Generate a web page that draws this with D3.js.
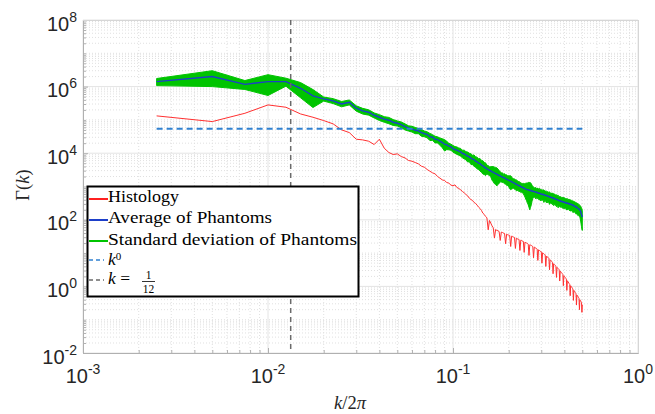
<!DOCTYPE html>
<html><head><meta charset="utf-8">
<script src="https://cdn.jsdelivr.net/npm/d3@7"></script>
<style>
html,body{margin:0;padding:0;background:#fff;}
svg{display:block;}
</style></head>
<body>
<svg id="chart" width="655" height="414"></svg>
<script>
// Spectrum samples on the grid k/2π = n/400, n = 1..200
const waveIndex = d3.range(1, 201);

// Histology spectrum Γ(k)
const histology = [
  1.32e5, 8.91e4, 1.58e5, 2.82e5, 2.40e5, 1.51e5, 1.20e5, 9.55e4, 7.59e4, 5.01e4,
  4.17e4, 2.63e4, 2.51e4, 2.29e4, 1.82e4, 2.63e4, 1.41e4, 1.05e4, 9.12e3, 9.55e3,
  7.94e3, 7.24e3, 6.03e3, 5.75e3, 5.25e3, 4.79e3, 4.07e3, 3.80e3, 3.24e3, 2.88e3,
  2.57e3, 2.40e3, 2.00e3, 1.78e3, 1.58e3, 1.51e3, 1.32e3, 1.26e3, 1.10e3, 1.05e3,
  1.12e3, 9.33e2, 8.71e2, 7.94e2, 7.08e2, 6.46e2, 5.75e2, 5.25e2, 4.47e2, 4.07e2,
  3.80e2, 3.31e2, 3.09e2, 2.75e2, 2.40e2, 2.19e2, 1.91e2, 1.58e2, 1.45e2, 1.26e2,
  1.15e2, 5.01e1, 9.55e1, 7.94e1, 6.61e1, 5.75e1, 2.82e1, 5.13e1, 4.79e1, 4.68e1,
  4.47e1, 2.40e1, 4.27e1, 4.17e1, 3.98e1, 3.89e1, 1.91e1, 3.72e1, 3.55e1, 3.47e1,
  3.39e1, 1.58e1, 3.24e1, 3.16e1, 3.02e1, 2.95e1, 1.38e1, 2.82e1, 2.69e1, 2.63e1,
  2.57e1, 1.20e1, 2.45e1, 2.40e1, 2.29e1, 2.24e1, 1.05e1, 2.14e1, 2.04e1, 2.00e1,
  1.95e1, 1.86e1, 8.51, 1.78e1, 1.74e1, 1.70e1, 1.62e1, 1.58e1, 7.24, 1.51e1,
  1.48e1, 1.41e1, 1.38e1, 1.32e1, 6.03, 1.26e1, 1.20e1, 1.17e1, 1.12e1, 1.10e1,
  5.01, 1.02e1, 9.77, 9.55, 9.12, 8.71, 3.98, 8.13, 7.76, 7.59,
  7.24, 6.92, 3.16, 6.31, 6.03, 5.75, 5.50, 5.25, 2.40, 4.79,
  4.57, 4.37, 4.27, 4.07, 1.86, 3.72, 3.55, 3.47, 3.31, 3.16,
  1.45, 2.88, 2.75, 2.63, 2.51, 2.40, 2.29, 1.05, 2.09, 2.00,
  1.91, 1.82, 1.74, 1.66, 0.759, 1.48, 1.41, 1.35, 1.26, 1.20,
  1.15, 0.525, 1.05, 1.00, 0.955, 0.912, 0.871, 0.832, 0.380, 0.759,
  0.724, 0.692, 0.661, 0.631, 0.603, 0.275, 0.550, 0.525, 0.501, 0.479,
  0.457, 0.437, 0.200, 0.398, 0.380, 0.363, 0.347, 0.331, 0.166, 0.282
];

// Average spectrum over the phantoms
const phantomMean = [
  1.41e6, 2.00e6, 1.17e6, 1.41e6, 1.41e6, 8.91e5, 5.25e5, 4.27e5, 3.72e5, 3.02e5,
  3.39e5, 2.24e5, 1.86e5, 1.70e5, 1.38e5, 1.20e5, 1.05e5, 9.77e4, 8.51e4, 7.94e4,
  7.24e4, 6.31e4, 5.62e4, 5.37e4, 4.90e4, 4.68e4, 4.17e4, 3.89e4, 3.63e4, 3.16e4,
  3.02e4, 2.63e4, 2.57e4, 2.29e4, 2.09e4, 1.86e4, 1.78e4, 1.62e4, 1.55e4, 1.38e4,
  1.29e4, 1.23e4, 1.15e4, 1.10e4, 9.77e3, 9.55e3, 8.71e3, 8.13e3, 7.76e3, 7.08e3,
  6.61e3, 6.46e3, 5.75e3, 5.50e3, 5.01e3, 4.90e3, 4.37e3, 4.17e3, 3.80e3, 3.63e3,
  3.39e3, 3.24e3, 3.02e3, 2.95e3, 2.75e3, 2.69e3, 2.51e3, 2.45e3, 2.34e3, 2.24e3,
  2.14e3, 2.09e3, 1.95e3, 1.95e3, 1.82e3, 1.82e3, 1.70e3, 1.66e3, 1.58e3, 1.55e3,
  1.48e3, 1.45e3, 1.38e3, 1.35e3, 1.29e3, 1.26e3, 1.20e3, 1.17e3, 1.12e3, 1.10e3,
  1.05e3, 1.04e3, 9.77e2, 9.66e2, 9.33e2, 9.23e2, 8.71e2, 8.61e2, 8.32e2, 8.22e2,
  7.94e2, 8.04e2, 7.76e2, 7.59e2, 7.68e2, 7.41e2, 7.24e2, 7.33e2, 7.08e2, 6.92e2,
  7.00e2, 6.76e2, 6.61e2, 6.69e2, 6.46e2, 6.31e2, 6.39e2, 6.17e2, 6.03e2, 5.89e2,
  5.96e2, 5.75e2, 5.82e2, 5.62e2, 5.50e2, 5.57e2, 5.37e2, 5.25e2, 5.31e2, 5.13e2,
  5.01e2, 5.07e2, 4.90e2, 4.79e2, 4.85e2, 4.68e2, 4.57e2, 4.63e2, 4.47e2, 4.37e2,
  4.42e2, 4.27e2, 4.17e2, 4.22e2, 4.07e2, 3.98e2, 4.03e2, 3.89e2, 3.80e2, 3.72e2,
  3.76e2, 3.63e2, 3.67e2, 3.55e2, 3.59e2, 3.47e2, 3.51e2, 3.39e2, 3.43e2, 3.31e2,
  3.35e2, 3.24e2, 3.28e2, 3.16e2, 3.20e2, 3.16e2, 3.09e2, 3.13e2, 3.02e2, 3.06e2,
  2.95e2, 2.98e2, 2.88e2, 2.91e2, 2.82e2, 2.85e2, 2.75e2, 2.69e2, 2.72e2, 2.63e2,
  2.57e2, 2.60e2, 2.51e2, 2.45e2, 2.40e2, 2.43e2, 2.34e2, 2.29e2, 2.24e2, 2.19e2,
  2.14e2, 2.09e2, 2.04e2, 1.95e2, 1.86e2, 1.74e2, 1.58e2, 1.45e2, 1.32e2, 1.20e2
];

// Standard deviation over the phantoms
const phantomStd = [
  3.4e5, 1.0e6, 3.5e5, 8.7e5, 3.8e5, 4.3e5, 2.9e5, 6.0e4, 6.3e4, 5.5e4,
  5.7e4, 4.1e4, 3.6e4, 3.1e4, 2.4e4, 2.4e4, 2.0e4, 2.1e4, 1.7e4, 1.4e4,
  1.4e4, 1.3e4, 1.0e4, 1.05e4, 1.04e4, 8.3e3, 9.5e3, 7.6e3, 7.4e3, 7.7e3,
  5.9e3, 6.0e3, 5.3e3, 5.7e3, 6.3e3, 7.0e3, 5.0e3, 3.6e3, 3.2e3, 3.2e3,
  2.9e3, 3.1e3, 2.8e3, 2.9e3, 2.5e3, 2.8e3, 2.4e3, 2.7e3, 2.2e3, 2.5e3,
  2.1e3, 2.4e3, 2.0e3, 2.1e3, 1.8e3, 2.0e3, 1.7e3, 1.8e3, 1.5e3, 1.5e3,
  9.8e2, 1.0e3, 9.1e2, 1.0e3, 1.2e3, 1.3e3, 1.3e3, 1.3e3, 1.3e3, 1.1e3,
  9.0e2, 7.1e2, 5.9e2, 6.3e2, 5.3e2, 6.1e2, 5.1e2, 5.8e2, 5.1e2, 5.7e2,
  6.2e2, 6.5e2, 5.5e2, 4.6e2, 4.0e2, 4.4e2, 3.8e2, 4.3e2, 3.7e2, 3.2e2,
  3.6e2, 3.1e2, 3.2e2, 2.8e2, 3.0e2, 3.2e2, 3.3e2, 3.8e2, 4.2e2, 4.5e2,
  4.8e2, 5.2e2, 5.4e2, 5.6e2, 5.3e2, 4.6e2, 3.6e2, 2.9e2, 2.5e2, 2.1e2,
  2.3e2, 2.5e2, 2.0e2, 2.4e2, 1.9e2, 2.2e2, 2.5e2, 2.0e2, 2.3e2, 1.9e2,
  2.2e2, 1.8e2, 2.0e2, 2.3e2, 1.9e2, 1.7e2, 1.9e2, 2.0e2, 1.7e2, 1.9e2,
  1.6e2, 1.8e2, 2.0e2, 1.7e2, 1.4e2, 1.7e2, 1.4e2, 1.8e2, 1.5e2, 1.7e2,
  1.6e2, 1.3e2, 1.5e2, 1.3e2, 1.6e2, 1.2e2, 1.4e2, 1.6e2, 1.3e2, 1.2e2,
  1.3e2, 1.2e2, 1.3e2, 1.2e2, 1.1e2, 1.2e2, 1.3e2, 1.1e2, 1.3e2, 1.1e2,
  1.2e2, 1.0e2, 1.1e2, 1.2e2, 1.05e2, 1.2e2, 1.0e2, 1.1e2, 9.5e1, 1.05e2,
  1.1e2, 1.0e2, 1.07e2, 9.4e1, 1.0e2, 8.8e1, 9.6e1, 1.03e2, 9.0e1, 9.8e1,
  8.3e1, 9.2e1, 7.8e1, 8.5e1, 9.2e1, 8.0e1, 8.8e1, 8.3e1, 8.9e1, 8.2e1,
  8.0e1, 7.6e1, 8.0e1, 7.5e1, 8.0e1, 8.2e1, 8.3e1, 8.3e1, 7.9e1, 7.2e1
];

// Reference k^0 level and the k = 1/12 cut-off
const kZeroLevel = 5.4e4;
const cutoffK = 1 / 12;

// Axis decades
const xTickExps = [-3, -2, -1, 0];
const yTickExps = [-2, 0, 2, 4, 6, 8];

const legendLabels = ["Histology", "Average of Phantoms", "Standard deviation of Phantoms"];

(function draw() {
  const svg = d3.select("#chart");
  const xLeft = 83, xRight = 638, yTop = 20, yBottom = 353;
  const x = d3.scaleLog().domain([1e-3, 1]).range([xLeft, xRight]);
  const y = d3.scaleLog().domain([1e-2, 1e8]).range([yBottom, yTop]);

  const rows = waveIndex.map((n, i) => ({
    k: n / 400,
    hist: histology[i],
    mean: phantomMean[i],
    lo: phantomMean[i] - phantomStd[i],
    hi: phantomMean[i] + phantomStd[i]
  }));

  // ---- grid ----
  const xMinor = [], yMinor = [];
  for (let e = -3; e < 0; e++) for (let m = 2; m <= 9; m++) xMinor.push(m * Math.pow(10, e));
  for (let e = -2; e < 8; e++) for (let m = 1; m <= 9; m++) {
    if (m === 1 && e % 2 === 0) continue;
    yMinor.push(m * Math.pow(10, e));
  }
  const xMajor = xTickExps.map(e => Math.pow(10, e));
  const yMajor = yTickExps.map(e => Math.pow(10, e));

  const grid = svg.append("g");
  grid.selectAll(null).data(xMinor).enter().append("line")
    .attr("x1", d => x(d)).attr("x2", d => x(d)).attr("y1", yTop).attr("y2", yBottom)
    .attr("stroke", "#e0e0e0").attr("stroke-dasharray", "1,2");
  grid.selectAll(null).data(yMinor).enter().append("line")
    .attr("y1", d => y(d)).attr("y2", d => y(d)).attr("x1", xLeft).attr("x2", xRight)
    .attr("stroke", "#e0e0e0").attr("stroke-dasharray", "1,2");
  grid.selectAll(null).data(xMajor).enter().append("line")
    .attr("x1", d => x(d)).attr("x2", d => x(d)).attr("y1", yTop).attr("y2", yBottom)
    .attr("stroke", "#e4e4e4");
  grid.selectAll(null).data(yMajor).enter().append("line")
    .attr("y1", d => y(d)).attr("y2", d => y(d)).attr("x1", xLeft).attr("x2", xRight)
    .attr("stroke", "#e4e4e4");

  // ---- axes ----
  const axisColor = "#b0b0b0";
  svg.append("g").attr("transform", `translate(0,${yBottom})`)
    .call(d3.axisBottom(x).tickValues(xMajor).tickSize(-5).tickFormat(""));
  svg.append("g").attr("transform", `translate(${xLeft},0)`)
    .call(d3.axisLeft(y).tickValues(yMajor).tickSize(-5).tickFormat(""));
  svg.append("g").attr("transform", `translate(0,${yBottom})`)
    .call(d3.axisBottom(x).tickValues(xMinor).tickSize(-3).tickFormat("")).select(".domain").remove();
  svg.append("g").attr("transform", `translate(${xLeft},0)`)
    .call(d3.axisLeft(y).tickValues(yMinor).tickSize(-3).tickFormat("")).select(".domain").remove();
  svg.selectAll(".domain, .tick line").attr("stroke", axisColor);
  svg.append("line").attr("x1", xLeft).attr("x2", xRight).attr("y1", yTop + 0.5).attr("y2", yTop + 0.5).attr("stroke", "#d6d6d6");
  svg.append("line").attr("x1", xRight + 0.5).attr("x2", xRight + 0.5).attr("y1", yTop).attr("y2", yBottom).attr("stroke", "#d6d6d6");

  function powerLabel(t, e) {
    t.append("tspan").text("10");
    t.append("tspan").attr("dy", -9).attr("font-size", 14).text(String(e));
  }
  const labelFont = "'Liberation Sans', Arial, sans-serif";
  xTickExps.forEach(e => {
    const t = svg.append("text").attr("x", x(Math.pow(10, e))).attr("y", yBottom + 30)
      .attr("text-anchor", "middle").attr("font-family", labelFont).attr("font-size", 20)
      .attr("fill", "#262626");
    powerLabel(t, e);
  });
  yTickExps.forEach(e => {
    const t = svg.append("text").attr("x", 77).attr("y", y(Math.pow(10, e)) + 10.5)
      .attr("text-anchor", "end").attr("font-family", labelFont).attr("font-size", 20)
      .attr("fill", "#262626");
    powerLabel(t, e);
  });

  // axis titles
  const serif = "'Liberation Serif', 'Times New Roman', serif";
  const xt = svg.append("text").attr("x", 350).attr("y", 409).attr("text-anchor", "middle")
    .attr("font-family", serif).attr("font-size", 18.5).attr("fill", "#262626");
  xt.append("tspan").attr("font-style", "italic").text("k");
  xt.append("tspan").text("/2");
  xt.append("tspan").attr("font-style", "italic").text("π");
  const yt = svg.append("text").attr("transform", "translate(29,185) rotate(-90)")
    .attr("text-anchor", "middle").attr("font-family", serif).attr("font-size", 18.5).attr("fill", "#262626");
  yt.append("tspan").text("Γ(");
  yt.append("tspan").attr("font-style", "italic").text("k");
  yt.append("tspan").text(")");

  // ---- data ----
  svg.append("clipPath").attr("id", "plotClip").append("rect")
    .attr("x", xLeft).attr("y", yTop).attr("width", xRight - xLeft).attr("height", yBottom - yTop);
  const plot = svg.append("g").attr("clip-path", "url(#plotClip)");

  const band = d3.area().x(d => x(d.k)).y0(d => y(d.lo)).y1(d => y(d.hi));
  plot.append("path").datum(rows).attr("d", band)
    .attr("fill", "#00c400").attr("stroke", "#00c400").attr("stroke-width", 1);

  plot.append("path").datum(rows)
    .attr("d", d3.line().x(d => x(d.k)).y(d => y(d.mean)))
    .attr("fill", "none").attr("stroke", "#1d3fc9").attr("stroke-width", 1.4);

  plot.append("path").datum(rows)
    .attr("d", d3.line().x(d => x(d.k)).y(d => y(d.hist)))
    .attr("fill", "none").attr("stroke", "#ff3030").attr("stroke-width", 1);

  const kRange = d3.extent(rows, d => d.k);
  plot.append("line").attr("x1", x(kRange[0])).attr("x2", x(kRange[1]))
    .attr("y1", y(kZeroLevel)).attr("y2", y(kZeroLevel))
    .attr("stroke", "#2f80d0").attr("stroke-width", 2).attr("stroke-dasharray", "6,4");

  const cutX = x(cutoffK / (2 * Math.PI));
  plot.append("line").attr("x1", cutX).attr("x2", cutX).attr("y1", yTop).attr("y2", yBottom)
    .attr("stroke", "#6a6a6a").attr("stroke-width", 1.5).attr("stroke-dasharray", "5,4");

  // ---- legend ----
  const lg = svg.append("g");
  lg.append("rect").attr("x", 87.5).attr("y", 186.5).attr("width", 271).attr("height", 110)
    .attr("fill", "#fff").attr("stroke", "#000").attr("stroke-width", 2);
  const solidEntries = [
    {label: legendLabels[0], color: "#ff2020", ly: 199, by: 202, w: 71},
    {label: legendLabels[1], color: "#1d3fc9", ly: 220, by: 223, w: 164},
    {label: legendLabels[2], color: "#00c400", ly: 241, by: 244.5, w: 249}
  ];
  solidEntries.forEach(s => {
    lg.append("line").attr("x1", 89).attr("x2", 108).attr("y1", s.ly).attr("y2", s.ly)
      .attr("stroke", s.color).attr("stroke-width", 2);
    lg.append("text").attr("x", 108).attr("y", s.by).attr("font-family", serif).attr("font-size", 17.5)
      .attr("textLength", s.w).attr("lengthAdjust", "spacingAndGlyphs").attr("fill", "#000").text(s.label);
  });
  lg.append("line").attr("x1", 89).attr("x2", 104).attr("y1", 260).attr("y2", 260)
    .attr("stroke", "#2f80d0").attr("stroke-width", 1.5).attr("stroke-dasharray", "4,3");
  const k0 = lg.append("text").attr("x", 108).attr("y", 265).attr("font-family", serif)
    .attr("font-size", 17.5).attr("fill", "#000");
  k0.append("tspan").attr("font-style", "italic").text("k");
  k0.append("tspan").attr("dy", -5.5).attr("font-size", 11).text("0");

  lg.append("line").attr("x1", 89).attr("x2", 104).attr("y1", 280).attr("y2", 280)
    .attr("stroke", "#6a6a6a").attr("stroke-width", 1.5).attr("stroke-dasharray", "4,3");
  const kc = lg.append("text").attr("x", 108).attr("y", 284).attr("font-family", serif)
    .attr("font-size", 17.5).attr("fill", "#000");
  kc.append("tspan").attr("font-style", "italic").text("k");
  kc.append("tspan").text(" = ");
  lg.append("text").attr("x", 148.5).attr("y", 279).attr("text-anchor", "middle")
    .attr("font-family", serif).attr("font-size", 11.5).text("1");
  lg.append("line").attr("x1", 142).attr("x2", 155).attr("y1", 281.5).attr("y2", 281.5)
    .attr("stroke", "#000").attr("stroke-width", 0.8);
  lg.append("text").attr("x", 148.5).attr("y", 292.5).attr("text-anchor", "middle")
    .attr("font-family", serif).attr("font-size", 11.5).text("12");
})();
</script>
</body></html>
